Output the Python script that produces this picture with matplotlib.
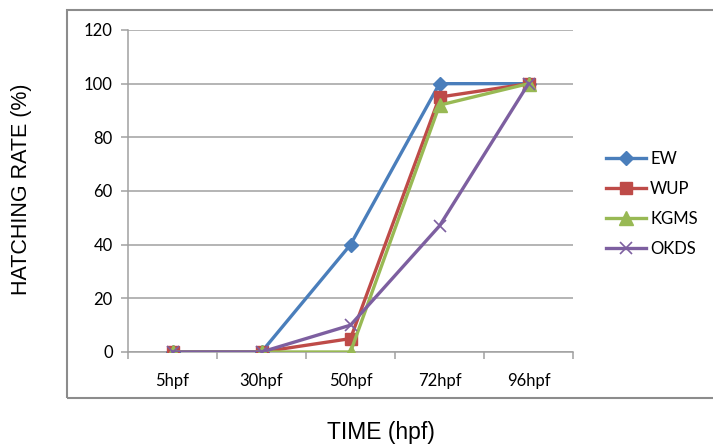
import matplotlib.pyplot as plt
from matplotlib.patches import Rectangle
import numpy as np

# data
categories = ['5hpf', '30hpf', '50hpf', '72hpf', '96hpf']
ew = [0, 0, 40, 100, 100]
wup = [0, 0, 5, 95, 100]
kgms = [0, 0, 0, 92, 100]
okds = [0, 0, 10, 47, 100]

series = [
    ('EW', ew, '#4A7EBB', 'D', 7),
    ('WUP', wup, '#BE4B48', 's', 8.5),
    ('KGMS', kgms, '#98B954', '^', 9.5),
    ('OKDS', okds, '#7D5FA0', 'x', 9),
]

fig = plt.figure(figsize=(7.13, 4.46), dpi=100)
ax = fig.add_axes([128 / 713, 1 - 352 / 446, 445 / 713, 322 / 446])

# outer chart border (Excel style)
fig.patches.append(Rectangle((67 / 713, 1 - 398 / 446), 1.0, 388 / 446,
                             transform=fig.transFigure, fill=False,
                             edgecolor='#8c8c8c', linewidth=1.5))

x = np.arange(len(categories))
for name, vals, col, mk, ms in series:
    if mk == 'x':
        ax.plot(x, vals, color=col, lw=2.4, marker=mk, markersize=ms,
                markeredgewidth=1.2, label=name, zorder=3)
    else:
        ax.plot(x, vals, color=col, lw=2.4, marker=mk, markersize=ms,
                label=name, zorder=3)

ax.set_xlim(-0.5, len(categories) - 0.5)
ax.set_ylim(0, 120)
ax.set_yticks(range(0, 121, 20))
ax.yaxis.grid(True, color='#a0a0a0', lw=1.1)
ax.set_axisbelow(True)

ax.set_xticks(x)
ax.set_xticklabels(categories, family='Lato', fontsize=12)
ax.set_xticks(np.arange(-0.5, len(categories), 1), minor=True)
ax.tick_params(axis='x', which='major', length=0, pad=15)
ax.tick_params(axis='x', which='minor', length=5, color='#a0a0a0', width=1.1)
ax.tick_params(axis='y', length=5, color='#a0a0a0', width=1.1, pad=6)
for lbl in ax.get_yticklabels():
    lbl.set_family('Lato')
    lbl.set_fontsize(12)

for s in ['top', 'right']:
    ax.spines[s].set_visible(False)
for s in ['left', 'bottom']:
    ax.spines[s].set_color('#a0a0a0')
    ax.spines[s].set_linewidth(1.1)

fig.text(22 / 713, 1 - 189 / 446, 'HATCHING RATE (%)', rotation=90,
         ha='center', va='center', family='Liberation Sans', fontsize=15.5)
fig.text(381 / 713, 1 - 432 / 446, 'TIME (hpf)', ha='center', va='center',
         family='Liberation Sans', fontsize=16.5)

ax.legend(loc='center left', bbox_to_anchor=(591 / 713, 1 - 204 / 446),
          bbox_transform=fig.transFigure, frameon=False,
          prop={'family': 'Lato', 'size': 12}, handlelength=2.4,
          handletextpad=0.25, labelspacing=0.85)

fig.savefig('out.png', dpi=100)
